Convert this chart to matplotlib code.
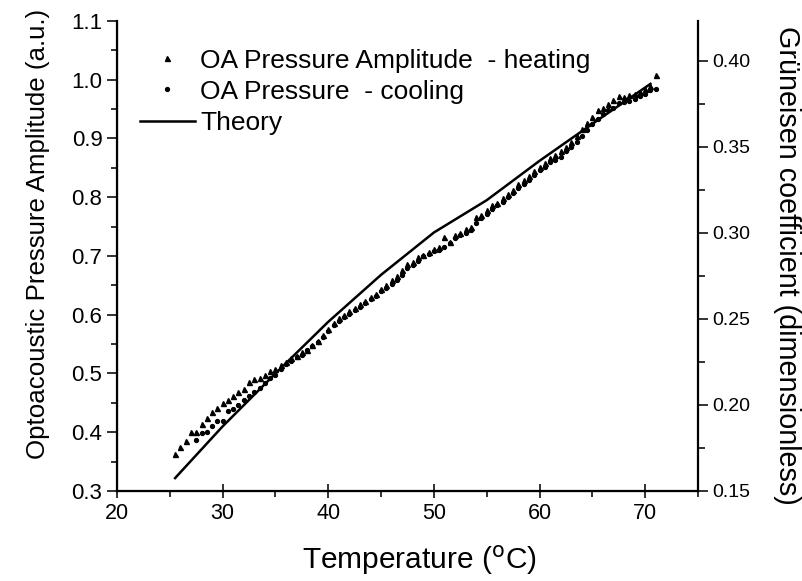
import matplotlib.pyplot as plt
from matplotlib.ticker import MultipleLocator

plt.rcParams['font.family'] = ['Liberation Sans', 'DejaVu Sans']

# =============================================================================
# DATA
# =============================================================================
heat_temp = [25.5, 26.0, 26.5, 27.0, 27.5, 28.0, 28.5, 29.0, 29.5, 30.0,
             30.5, 31.0, 31.5, 32.0, 32.5, 33.0, 33.5, 34.0, 34.5, 35.0,
             35.5, 36.0, 36.5, 37.0, 37.5, 38.0, 38.5, 39.0, 39.5, 40.0,
             40.5, 41.0, 41.5, 42.0, 42.5, 43.0, 43.5, 44.0, 44.5, 45.0,
             45.5, 46.0, 46.5, 47.0, 47.5, 48.0, 48.5, 49.0, 49.5, 50.0,
             50.5, 51.0, 51.5, 52.0, 52.5, 53.0, 53.5, 54.0, 54.5, 55.0,
             55.5, 56.0, 56.5, 57.0, 57.5, 58.0, 58.5, 59.0, 59.5, 60.0,
             60.5, 61.0, 61.5, 62.0, 62.5, 63.0, 63.5, 64.0, 64.5, 65.0,
             65.5, 66.0, 66.5, 67.0, 67.5, 68.0, 68.5, 69.0, 69.5, 70.0,
             70.5, 71.0]
heat_amp = [0.363, 0.375, 0.385, 0.400, 0.401, 0.414, 0.424, 0.434, 0.442, 0.450,
            0.455, 0.462, 0.468, 0.474, 0.486, 0.490, 0.492, 0.498, 0.504, 0.508,
            0.514, 0.520, 0.526, 0.530, 0.536, 0.540, 0.548, 0.556, 0.566, 0.576,
            0.586, 0.594, 0.600, 0.606, 0.612, 0.618, 0.624, 0.630, 0.636, 0.644,
            0.650, 0.660, 0.666, 0.676, 0.686, 0.690, 0.698, 0.702, 0.706, 0.712,
            0.716, 0.732, 0.724, 0.736, 0.740, 0.746, 0.750, 0.766, 0.770, 0.778,
            0.786, 0.790, 0.798, 0.806, 0.812, 0.822, 0.830, 0.836, 0.844, 0.852,
            0.858, 0.866, 0.872, 0.878, 0.886, 0.894, 0.904, 0.916, 0.926, 0.936,
            0.948, 0.952, 0.958, 0.966, 0.972, 0.970, 0.974, 0.976, 0.980, 0.984,
            0.990, 1.008]

cool_temp = [27.5, 28.0, 28.5, 29.0, 29.5, 30.0, 30.5, 31.0, 31.5, 32.0,
             32.5, 33.0, 33.5, 34.0, 34.5, 35.0, 35.5, 36.0, 36.5, 37.0,
             37.5, 38.0, 38.5, 39.0, 39.5, 40.0, 40.5, 41.0, 41.5, 42.0,
             42.5, 43.0, 43.5, 44.0, 44.5, 45.0, 45.5, 46.0, 46.5, 47.0,
             47.5, 48.0, 48.5, 49.0, 49.5, 50.0, 50.5, 51.0, 51.5, 52.0,
             52.5, 53.0, 53.5, 54.0, 54.5, 55.0, 55.5, 56.0, 56.5, 57.0,
             57.5, 58.0, 58.5, 59.0, 59.5, 60.0, 60.5, 61.0, 61.5, 62.0,
             62.5, 63.0, 63.5, 64.0, 64.5, 65.0, 65.5, 66.0, 66.5, 67.0,
             67.5, 68.0, 68.5, 69.0, 69.5, 70.0, 70.5, 71.0]
cool_amp = [0.386, 0.398, 0.400, 0.410, 0.420, 0.420, 0.436, 0.440, 0.447, 0.455,
            0.462, 0.468, 0.476, 0.484, 0.492, 0.498, 0.508, 0.516, 0.522, 0.528,
            0.532, 0.540, 0.546, 0.554, 0.562, 0.572, 0.582, 0.590, 0.596, 0.602,
            0.608, 0.614, 0.620, 0.626, 0.632, 0.640, 0.646, 0.652, 0.660, 0.668,
            0.680, 0.684, 0.692, 0.700, 0.704, 0.708, 0.710, 0.716, 0.722, 0.730,
            0.736, 0.740, 0.744, 0.756, 0.764, 0.772, 0.780, 0.786, 0.792, 0.800,
            0.808, 0.816, 0.822, 0.830, 0.838, 0.846, 0.852, 0.860, 0.864, 0.868,
            0.878, 0.886, 0.894, 0.904, 0.914, 0.924, 0.934, 0.942, 0.948, 0.952,
            0.960, 0.962, 0.964, 0.968, 0.972, 0.976, 0.982, 0.984]

theory_temp = [25.5, 30.0, 35.0, 40.0, 45.0, 50.0, 55.0, 60.0, 65.0, 70.5]
theory_amp = [0.322, 0.410, 0.500, 0.588, 0.668, 0.740, 0.795, 0.862, 0.925, 0.993]

# =============================================================================
# PLOT
# =============================================================================
fig = plt.figure(figsize=(8.02, 5.81), dpi=100)
ax = fig.add_axes([117 / 802, 1 - 491 / 581, 581 / 802, 470 / 581])

ax.plot(heat_temp, heat_amp, linestyle='none', marker='^', ms=3.6,
        color='black', label='OA Pressure Amplitude  - heating')
ax.plot(cool_temp, cool_amp, linestyle='none', marker='o', ms=2.8,
        color='black', label='OA Pressure  - cooling')
ax.plot(theory_temp, theory_amp, color='black', lw=1.8, label='Theory')

ax.set_xlim(20, 75)
ax.set_ylim(0.3, 1.1)
ax.xaxis.set_major_locator(MultipleLocator(10))
ax.xaxis.set_minor_locator(MultipleLocator(5))
ax.yaxis.set_major_locator(MultipleLocator(0.1))
ax.yaxis.set_minor_locator(MultipleLocator(0.05))
ax.yaxis.set_major_formatter(lambda v, p: f'{v:.1f}')
ax.tick_params(which='major', length=7, width=1.3, labelsize=16, color='#222222')
ax.tick_params(which='minor', length=4, width=1.3, color='#222222')
ax.tick_params(axis='x', which='major', direction='inout', length=10, labelsize=15.5)
for side in ['left', 'bottom', 'right']:
    ax.spines[side].set_linewidth(1.6)
ax.spines['top'].set_visible(False)
ax.spines['right'].set_visible(False)

ax.set_xlabel('Temperature ($^{\\mathrm{o}}$C)', fontsize=21.5, labelpad=14)
ax.xaxis.label.set_x(0.521)
ax.set_ylabel('Optoacoustic Pressure Amplitude (a.u.)', fontsize=18.6, labelpad=15)
ax.yaxis.label.set_y(0.547)

# right axis: Grüneisen coefficient
ax2 = ax.twinx()
ax2.set_ylim(0.15, 0.15 + 470 / 86 * 0.05)
ax2.yaxis.set_major_locator(MultipleLocator(0.05))
ax2.yaxis.set_minor_locator(MultipleLocator(0.025))
ax2.yaxis.set_major_formatter(lambda v, p: f'{v:.2f}')
ax2.tick_params(which='major', length=7, width=1.3, labelsize=14, color='#222222')
ax2.tick_params(which='minor', length=5, width=1.3, color='#222222')
ax2.spines['right'].set_linewidth(1.6)
ax2.spines['top'].set_visible(False)
ax2.set_ylabel('Grüneisen coefficient (dimensionless)', fontsize=20.7,
               rotation=-90, labelpad=36)
ax2.yaxis.label.set_y(0.481)

leg = ax.legend(loc='upper left', bbox_to_anchor=(-0.002, 0.992), frameon=False,
                fontsize=19, handlelength=2.1, handletextpad=0.2,
                labelspacing=0.27, markerscale=1.0)

fig.savefig('out.png', dpi=100)
